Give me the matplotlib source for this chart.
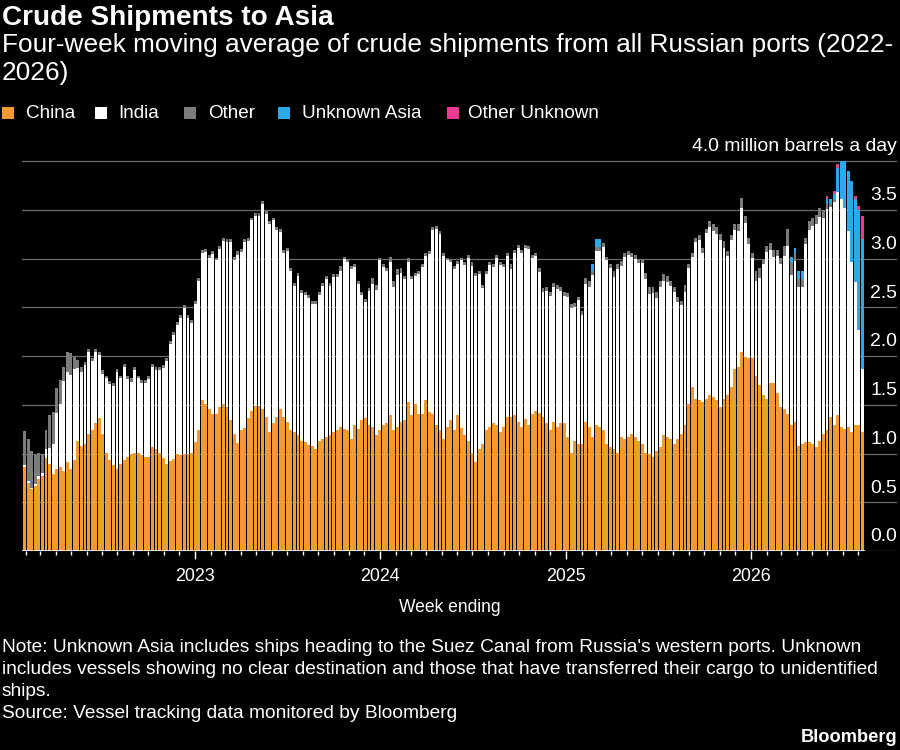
import numpy as np
import pandas as pd
import matplotlib
matplotlib.use("Agg")
import matplotlib.pyplot as plt
import matplotlib.dates as mdates
from matplotlib.patches import Rectangle

plt.rcParams["font.family"] = ["Liberation Sans", "DejaVu Sans"]

# weekly data, first week ending
first_week = "2022-01-30"

# top of each stacked bar (million barrels a day)
total = [
    1.23, 1.15, 1.03, 0.98, 1.01, 1.00, 1.24, 1.39, 1.43, 1.67,
    1.75, 1.89, 2.04, 2.03, 1.99, 1.96, 1.89, 1.94, 2.07, 1.98,
    2.07, 2.04, 1.86, 1.80, 1.74, 1.72, 1.87, 1.80, 1.92, 1.80,
    1.77, 1.89, 1.80, 1.75, 1.75, 1.79, 1.92, 1.89, 1.89, 1.91,
    1.98, 2.15, 2.25, 2.35, 2.42, 2.52, 2.42, 2.37, 2.56, 2.80,
    3.09, 3.10, 3.04, 3.08, 3.01, 3.13, 3.21, 3.20, 3.20, 3.02,
    3.08, 3.10, 3.20, 3.21, 3.42, 3.47, 3.47, 3.59, 3.49, 3.38,
    3.42, 3.32, 3.30, 3.09, 3.11, 2.90, 2.75, 2.85, 2.68, 2.66,
    2.63, 2.56, 2.56, 2.66, 2.75, 2.82, 2.75, 2.84, 2.84, 2.92,
    3.02, 2.99, 2.92, 2.94, 2.77, 2.66, 2.58, 2.70, 2.80, 2.73,
    3.01, 2.94, 2.90, 3.02, 2.77, 2.89, 2.90, 2.82, 3.01, 2.82,
    2.85, 2.87, 2.94, 3.06, 3.08, 3.32, 3.33, 3.28, 3.06, 3.01,
    2.99, 2.92, 2.97, 3.01, 2.96, 3.04, 2.96, 2.85, 2.87, 2.73,
    2.87, 2.96, 2.94, 3.04, 2.96, 2.94, 3.06, 2.94, 3.09, 3.14,
    3.09, 3.14, 3.13, 3.04, 3.06, 2.90, 2.70, 2.71, 2.66, 2.75,
    2.73, 2.71, 2.66, 2.65, 2.53, 2.54, 2.61, 2.46, 2.80, 2.77,
    2.94, 3.20, 3.20, 3.16, 3.02, 2.94, 2.87, 2.94, 2.97, 3.06,
    3.08, 3.06, 3.04, 2.99, 2.99, 2.85, 2.71, 2.71, 2.66, 2.77,
    2.84, 2.82, 2.77, 2.71, 2.61, 2.56, 2.73, 2.94, 3.06, 3.21,
    3.24, 3.11, 3.30, 3.38, 3.35, 3.32, 3.25, 3.18, 3.08, 3.24,
    3.35, 3.35, 3.62, 3.44, 3.21, 3.06, 2.87, 2.90, 3.00, 3.13,
    3.16, 3.09, 3.09, 3.01, 3.13, 3.30, 3.02, 3.11, 2.87, 2.87,
    3.21, 3.38, 3.42, 3.45, 3.52, 3.50, 3.64, 3.61, 3.69, 3.97,
    4.00, 4.00, 3.90, 3.80, 3.64, 3.54, 3.44,
]

china = [
    0.86, 0.70, 0.64, 0.67, 0.74, 0.77, 0.95, 0.89, 0.79, 0.84,
    0.86, 0.82, 0.91, 0.84, 0.93, 1.13, 1.08, 1.10, 1.20, 1.24,
    1.31, 1.36, 1.20, 1.01, 0.93, 0.88, 0.84, 0.89, 0.93, 0.96,
    1.00, 1.01, 1.01, 0.98, 0.96, 0.96, 1.07, 1.05, 1.01, 0.95,
    0.89, 0.92, 0.94, 1.00, 0.98, 1.00, 1.00, 1.01, 1.12, 1.24,
    1.55, 1.51, 1.46, 1.41, 1.41, 1.48, 1.51, 1.48, 1.34, 1.20,
    1.11, 1.24, 1.26, 1.36, 1.44, 1.49, 1.49, 1.46, 1.37, 1.22,
    1.31, 1.37, 1.46, 1.37, 1.32, 1.24, 1.22, 1.19, 1.13, 1.12,
    1.09, 1.08, 1.05, 1.13, 1.15, 1.17, 1.19, 1.22, 1.24, 1.27,
    1.25, 1.24, 1.15, 1.29, 1.25, 1.34, 1.36, 1.29, 1.27, 1.19,
    1.24, 1.29, 1.31, 1.39, 1.24, 1.27, 1.32, 1.34, 1.53, 1.39,
    1.51, 1.41, 1.41, 1.55, 1.43, 1.41, 1.29, 1.24, 1.15, 1.27,
    1.34, 1.24, 1.39, 1.26, 1.19, 1.13, 1.01, 0.91, 1.05, 1.10,
    1.24, 1.27, 1.31, 1.29, 1.22, 1.27, 1.37, 1.37, 1.39, 1.32,
    1.27, 1.35, 1.29, 1.41, 1.44, 1.42, 1.37, 1.31, 1.24, 1.32,
    1.27, 1.31, 1.31, 1.17, 1.01, 1.13, 1.10, 1.10, 1.32, 1.27,
    1.17, 1.29, 1.27, 1.24, 1.10, 1.07, 1.05, 1.01, 1.17, 1.15,
    1.17, 1.20, 1.17, 1.13, 1.10, 1.01, 1.00, 0.96, 1.03, 1.07,
    1.19, 1.17, 1.15, 1.10, 1.15, 1.20, 1.29, 1.51, 1.68, 1.56,
    1.55, 1.53, 1.56, 1.60, 1.58, 1.55, 1.48, 1.56, 1.60, 1.68,
    1.87, 1.89, 2.04, 1.99, 1.98, 1.98, 1.80, 1.70, 1.60, 1.56,
    1.72, 1.72, 1.62, 1.48, 1.46, 1.41, 1.29, 1.32, 1.08, 1.10,
    1.12, 1.12, 1.10, 1.07, 1.13, 1.20, 1.24, 1.37, 1.29, 1.39,
    1.27, 1.25, 1.27, 1.22, 1.29, 1.29, 1.22,
]

other = [
    0.35, 0.43, 0.38, 0.29, 0.24, 0.20, 0.19, 0.33, 0.33, 0.25,
    0.24, 0.15, 0.20, 0.22, 0.12, 0.08, 0.05, 0.03, 0.03, 0.03,
    0.03, 0.03, 0.04, 0.03, 0.03, 0.03, 0.03, 0.03, 0.03, 0.04,
    0.04, 0.03, 0.03, 0.03, 0.03, 0.03, 0.03, 0.03, 0.03, 0.03,
    0.03, 0.03, 0.03, 0.03, 0.03, 0.03, 0.03, 0.03, 0.03, 0.03,
    0.03, 0.03, 0.03, 0.03, 0.03, 0.03, 0.03, 0.03, 0.03, 0.04,
    0.04, 0.03, 0.03, 0.03, 0.03, 0.03, 0.03, 0.03, 0.03, 0.03,
    0.03, 0.03, 0.03, 0.03, 0.03, 0.03, 0.03, 0.03, 0.03, 0.03,
    0.03, 0.03, 0.03, 0.03, 0.03, 0.03, 0.03, 0.03, 0.03, 0.05,
    0.03, 0.03, 0.03, 0.03, 0.03, 0.03, 0.03, 0.03, 0.06, 0.05,
    0.03, 0.03, 0.03, 0.06, 0.06, 0.06, 0.05, 0.03, 0.05, 0.03,
    0.03, 0.03, 0.03, 0.03, 0.03, 0.03, 0.03, 0.03, 0.03, 0.03,
    0.03, 0.03, 0.03, 0.03, 0.03, 0.03, 0.04, 0.03, 0.03, 0.03,
    0.03, 0.03, 0.03, 0.03, 0.03, 0.03, 0.03, 0.05, 0.03, 0.03,
    0.03, 0.03, 0.03, 0.03, 0.03, 0.04, 0.04, 0.04, 0.04, 0.04,
    0.04, 0.04, 0.04, 0.04, 0.04, 0.04, 0.04, 0.04, 0.06, 0.06,
    0.04, 0.04, 0.04, 0.04, 0.04, 0.04, 0.06, 0.05, 0.05, 0.04,
    0.04, 0.04, 0.04, 0.04, 0.04, 0.06, 0.07, 0.06, 0.07, 0.06,
    0.07, 0.06, 0.05, 0.05, 0.06, 0.04, 0.07, 0.04, 0.04, 0.04,
    0.05, 0.05, 0.04, 0.06, 0.07, 0.07, 0.06, 0.07, 0.05, 0.05,
    0.06, 0.07, 0.10, 0.08, 0.06, 0.05, 0.10, 0.10, 0.06, 0.06,
    0.07, 0.07, 0.06, 0.07, 0.10, 0.17, 0.12, 0.08, 0.08, 0.08,
    0.06, 0.09, 0.09, 0.10, 0.09, 0.08, 0.05, 0.03, 0.02, 0.00,
    0.00, 0.00, 0.00, 0.00, 0.00, 0.00, 0.00,
]

unknown_asia = [
    0, 0, 0, 0, 0, 0, 0, 0, 0, 0,
    0, 0, 0, 0, 0, 0, 0, 0, 0, 0,
    0, 0, 0, 0, 0, 0, 0, 0, 0, 0,
    0, 0, 0, 0, 0, 0, 0, 0, 0, 0,
    0, 0, 0, 0, 0, 0, 0, 0, 0, 0,
    0, 0, 0, 0, 0, 0, 0, 0, 0, 0,
    0, 0, 0, 0, 0, 0, 0, 0, 0, 0,
    0, 0, 0, 0, 0, 0, 0, 0, 0, 0,
    0, 0, 0, 0, 0, 0, 0, 0, 0, 0,
    0, 0, 0, 0, 0, 0, 0, 0, 0, 0,
    0, 0, 0, 0, 0, 0, 0, 0, 0, 0,
    0, 0, 0, 0, 0, 0, 0, 0, 0, 0,
    0, 0, 0, 0, 0, 0, 0, 0, 0, 0,
    0, 0, 0, 0, 0, 0, 0, 0, 0, 0,
    0, 0, 0, 0, 0, 0, 0, 0, 0, 0,
    0, 0, 0, 0, 0, 0, 0, 0, 0, 0,
    0.07, 0.08, 0.08, 0, 0, 0, 0, 0, 0, 0,
    0, 0, 0, 0, 0, 0, 0, 0, 0, 0,
    0, 0, 0, 0, 0, 0, 0, 0, 0, 0,
    0, 0, 0, 0, 0, 0, 0, 0, 0, 0,
    0, 0, 0, 0, 0, 0, 0, 0, 0, 0,
    0, 0, 0, 0, 0, 0, 0.07, 0.06, 0.08, 0.08,
    0, 0, 0, 0, 0, 0, 0.05, 0.05, 0.06, 0.25,
    0.39, 0.48, 0.62, 0.84, 0.85, 1.23, 1.33,
]

other_unknown = [
    0, 0, 0, 0, 0, 0, 0, 0, 0, 0,
    0, 0, 0, 0, 0, 0, 0, 0, 0, 0,
    0, 0, 0, 0, 0, 0, 0, 0, 0, 0,
    0, 0, 0, 0, 0, 0, 0, 0, 0, 0,
    0, 0, 0, 0, 0, 0, 0, 0, 0, 0,
    0, 0, 0, 0, 0, 0, 0, 0, 0, 0,
    0, 0, 0, 0, 0, 0, 0, 0, 0, 0,
    0, 0, 0, 0, 0, 0, 0, 0, 0, 0,
    0, 0, 0, 0, 0, 0, 0, 0, 0, 0,
    0, 0, 0, 0, 0, 0, 0, 0, 0, 0,
    0, 0, 0, 0, 0, 0, 0, 0, 0, 0,
    0, 0, 0, 0, 0, 0, 0, 0, 0, 0,
    0, 0, 0, 0, 0, 0, 0, 0, 0, 0,
    0, 0, 0, 0, 0, 0, 0, 0, 0, 0,
    0, 0, 0, 0, 0, 0, 0, 0, 0, 0,
    0, 0, 0, 0, 0, 0, 0, 0, 0, 0,
    0, 0, 0, 0, 0, 0, 0, 0, 0, 0,
    0, 0, 0, 0, 0, 0, 0, 0, 0, 0,
    0, 0, 0, 0, 0, 0, 0, 0, 0, 0,
    0, 0, 0, 0, 0, 0, 0, 0, 0, 0,
    0, 0, 0, 0, 0, 0, 0, 0, 0, 0,
    0, 0, 0, 0, 0, 0, 0, 0, 0, 0,
    0, 0, 0, 0, 0, 0, 0.03, 0, 0.03, 0.04,
    0, 0, 0, 0, 0.03, 0.04, 0.24,
]

series_names = ["China", "India", "Other", "Unknown Asia", "Other Unknown"]
colors = ["#F39A30", "#FFFFFF", "#7C7C7C", "#2CAAE8", "#EC3A94"]
year_ticks = ["2023-01-01", "2024-01-01", "2025-01-01", "2026-01-01"]
year_labels = ["2023", "2024", "2025", "2026"]
y_ticks = [0.0, 0.5, 1.0, 1.5, 2.0, 2.5, 3.0, 3.5, 4.0]

title = "Crude Shipments to Asia"
subtitle = ("Four-week moving average of crude shipments from all Russian ports (2022-\n"
            "2026)")
note = ("Note: Unknown Asia includes ships heading to the Suez Canal from Russia's western ports. Unknown\n"
        "includes vessels showing no clear destination and those that have transferred their cargo to unidentified\n"
        "ships.")
source = "Source: Vessel tracking data monitored by Bloomberg"

total = np.array(total)
china = np.array(china)
other = np.array(other)
unknown_asia = np.array(unknown_asia, dtype=float)
other_unknown = np.array(other_unknown, dtype=float)
india = np.clip(total - china - other - unknown_asia - other_unknown, 0, None)

weeks = pd.date_range(first_week, periods=len(china), freq="7D")
x = mdates.date2num(weeks)

W, H = 900, 750
fig = plt.figure(figsize=(W / 100, H / 100), dpi=100, facecolor="black")
renderer = fig.canvas.get_renderer()


def fit(t, target_px):
    w = t.get_window_extent(renderer=renderer).width
    t.set_fontsize(t.get_fontsize() * target_px / w)
    return t.get_fontsize()


# plot area: baseline at y=551px, 97.5 px per unit, 3.55 px per week
ax = fig.add_axes([22 / W, 1 - 551 / H, 875 / W, 409 / H])
ax.set_facecolor("black")
left = x[0] - 5.3
ax.set_xlim(left, left + 875 / 3.55 * 7)
ax.set_ylim(0, 409 / 97.5)

for v in y_ticks:
    ax.axhline(v, color="#6A6A6A", lw=0.9, zorder=0)

bottom = np.zeros(len(china))
for vals, c in zip([china, india, other, unknown_asia, other_unknown], colors):
    ax.bar(x, vals, width=5.7, bottom=bottom, color=c, linewidth=0, zorder=2)
    bottom = bottom + vals

ax.hlines(0, left, x[-1] + 4, color="white", lw=1.2, zorder=3)

for s in ax.spines.values():
    s.set_visible(False)
ax.tick_params(axis="y", left=False, labelleft=False)

months = pd.date_range("2022-02-01", weeks[-1], freq="MS")
ax.set_xticks(mdates.date2num(pd.to_datetime(year_ticks)))
ax.set_xticklabels(year_labels)
ax.set_xticks(mdates.date2num(months), minor=True)
ax.tick_params(axis="x", which="major", length=6, width=1, color="white",
               labelcolor="white", labelsize=14, pad=6)
ax.tick_params(axis="x", which="minor", length=3, width=1, color="white")

# y labels sit above the gridlines at the right edge
tmp = ax.text(0, 0, "4.0 million barrels a day", fontsize=14)
ysize = fit(tmp, 207)
tmp.remove()
for v in y_ticks:
    label = f"{v:.1f}" + (" million barrels a day" if v == 4.0 else "")
    ax.annotate(label, xy=(1, v), xycoords=("axes fraction", "data"),
                xytext=(0, 4), textcoords="offset points", ha="right",
                va="bottom", color="white", fontsize=ysize)

tmp = fig.text(0, 0, "2023", fontsize=14)
xsize = fit(tmp, 40)
tmp.remove()
for lab in ax.get_xticklabels():
    lab.set_fontsize(xsize)

wk = fig.text(450 / W, 1 - 608 / H, "Week ending", color="white",
              ha="center", va="center", fontsize=14)
fit(wk, 103)

# header
t = fig.text(2 / W, 1 - 18 / H, title, color="white", fontweight="bold",
             ha="left", va="center", fontsize=18)
fit(t, 330)

st = fig.text(2 / W, 1 - 45 / H, subtitle.split("\n")[0], color="white",
              ha="left", va="center", fontsize=17)
ssize = fit(st, 893)
fig.text(2 / W, 1 - 73 / H, subtitle.split("\n")[1], color="white",
         ha="left", va="center", fontsize=ssize)

# legend
sq_x = [2, 95, 184, 278, 447]
txt_x = [26, 118, 208, 302, 468]
tmp = fig.text(0, 0, "Unknown Asia", fontsize=14)
lsize = fit(tmp, 120)
tmp.remove()
for name, c, sx, tx in zip(series_names, colors, sq_x, txt_x):
    fig.patches.append(Rectangle((sx / W, 1 - 119 / H), 12 / W, 12 / H,
                                 transform=fig.transFigure, facecolor=c,
                                 edgecolor="none"))
    fig.text(tx / W, 1 - 113 / H, name, color="white", ha="left",
             va="center", fontsize=lsize)

# footer
note_lines = note.split("\n")
tmp = fig.text(0, 0, note_lines[1], fontsize=13)
nsize = fit(tmp, 878)
tmp.remove()
for line, yy in zip(note_lines, [648, 670, 691]):
    fig.text(2 / W, 1 - yy / H, line, color="white", ha="left", va="center",
             fontsize=nsize)
fig.text(2 / W, 1 - 713 / H, source, color="white", ha="left", va="center",
         fontsize=nsize)
b = fig.text(897 / W, 1 - 738 / H, "Bloomberg", color="white", ha="right",
             va="center", fontweight="bold", fontsize=13)
fit(b, 96)

fig.savefig("out.png", dpi=100, facecolor="black")
